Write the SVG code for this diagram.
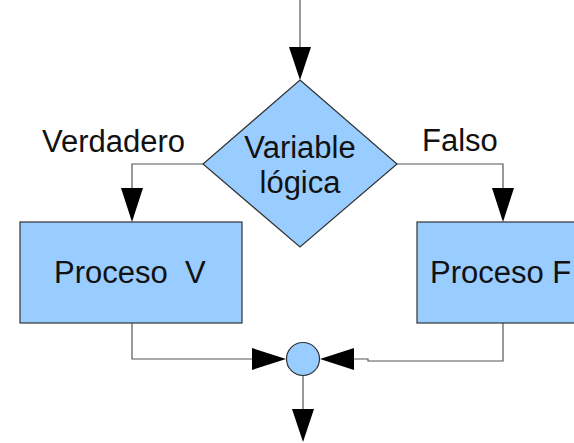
<svg xmlns="http://www.w3.org/2000/svg" width="574" height="443" viewBox="0 0 574 443">
<style>
.shape{fill:#99ccff;stroke:#333;stroke-width:1.2}
.conn{fill:none;stroke:#555;stroke-width:1.2}
.head{fill:#000}
text{font-family:"Liberation Sans",Arial,sans-serif;font-size:31px;fill:#111}
</style>
<rect width="574" height="443" fill="#fff"/>
<g id="connectors">
<path class="conn" d="M300,0 V48"/>
<polygon class="head" points="289,47 311,47 300,80"/>
<path class="conn" d="M203,164 H132 V189"/>
<polygon class="head" points="121,188 143,188 132,222"/>
<path class="conn" d="M397,164 H503 V189"/>
<polygon class="head" points="492,188 514,188 503,222"/>
<path class="conn" d="M132,323 V359 H254"/>
<polygon class="head" points="252,348 252,370 286,359"/>
<path class="conn" d="M503,323 V361 H368 V359 H352"/>
<polygon class="head" points="354,348 354,370 320,359"/>
<path class="conn" d="M303,376 V410"/>
<polygon class="head" points="292,409 314,409 303,442"/>
</g>
<g id="decision">
<polygon class="shape" points="300,80 397,164 300,247 203,164"/>
<text x="300" y="158" text-anchor="middle">Variable</text>
<text x="300" y="193" text-anchor="middle">lógica</text>
</g>
<g id="procesoV">
<rect class="shape" x="20" y="222" width="222" height="101"/>
<text x="54" y="283" xml:space="preserve">Proceso  V</text>
</g>
<g id="procesoF">
<rect class="shape" x="417" y="222" width="170" height="101"/>
<text x="430" y="283">Proceso F</text>
</g>
<g id="junction">
<circle class="shape" cx="303" cy="359" r="16.5"/>
</g>
<g id="labels">
<text x="42" y="152">Verdadero</text>
<text x="422" y="151">Falso</text>
</g>
</svg>
